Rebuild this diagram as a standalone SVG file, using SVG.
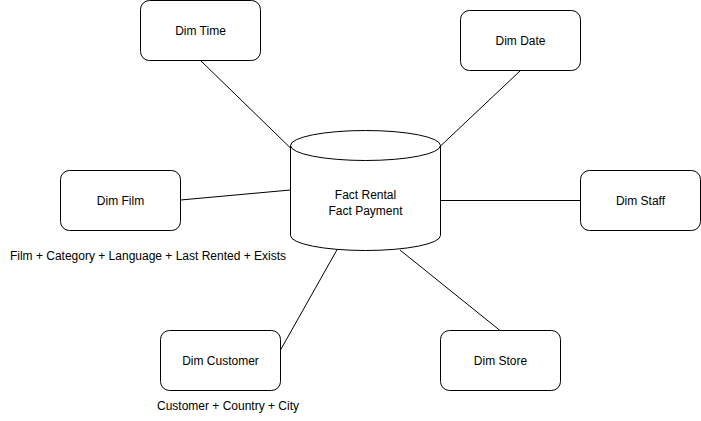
<svg xmlns="http://www.w3.org/2000/svg" width="701" height="421" viewBox="0 0 701 421">
<style>
.box{fill:#fff;stroke:#000;stroke-width:1}
.t{font-family:"Liberation Sans",Arial,Helvetica,sans-serif;font-size:12px;fill:#000;text-anchor:middle;dominant-baseline:central}
.c{stroke:#000;stroke-width:1;fill:none}
</style>
<rect width="701" height="421" fill="#fff"/>
<g id="connectors">
<line class="c" x1="200.5" y1="60.5" x2="290.5" y2="148"/>
<line class="c" x1="520.5" y1="70.5" x2="440.5" y2="146"/>
<line class="c" x1="180.5" y1="200" x2="290.5" y2="190"/>
<line class="c" x1="440.5" y1="200.5" x2="580.5" y2="200.5"/>
<line class="c" x1="280.5" y1="350" x2="338" y2="248"/>
<line class="c" x1="500" y1="330.5" x2="400" y2="250"/>
</g>
<g id="fact">
<path class="box" d="M290.5,145.5 A75,15 0 0 1 440.5,145.5 L440.5,235.5 A75,15 0 0 1 290.5,235.5 Z"/>
<path class="c" d="M290.5,145.5 A75,15 0 0 0 440.5,145.5"/>
<text class="t" x="365.5" y="195">Fact Rental</text>
<text class="t" x="365.5" y="211">Fact Payment</text>
</g>
<g id="dim-time"><rect class="box" x="140.5" y="0.5" width="120" height="60" rx="9"/><text class="t" x="200.5" y="30.5">Dim Time</text></g>
<g id="dim-date"><rect class="box" x="460.5" y="10.5" width="120" height="60" rx="9"/><text class="t" x="520.5" y="40.5">Dim Date</text></g>
<g id="dim-film"><rect class="box" x="60.5" y="170.5" width="120" height="60" rx="9"/><text class="t" x="120.5" y="200.5">Dim Film</text></g>
<g id="dim-staff"><rect class="box" x="580.5" y="170.5" width="120" height="60" rx="9"/><text class="t" x="640.5" y="200.5">Dim Staff</text></g>
<g id="dim-customer"><rect class="box" x="160.5" y="330.5" width="120" height="60" rx="9"/><text class="t" x="220.5" y="360.5">Dim Customer</text></g>
<g id="dim-store"><rect class="box" x="440.5" y="330.5" width="120" height="60" rx="9"/><text class="t" x="500.5" y="360.5">Dim Store</text></g>
<g id="label-film"><text class="t" x="148" y="255.5">Film + Category + Language + Last Rented + Exists</text></g>
<g id="label-customer"><text class="t" x="228" y="405.5">Customer + Country + City</text></g>
</svg>
